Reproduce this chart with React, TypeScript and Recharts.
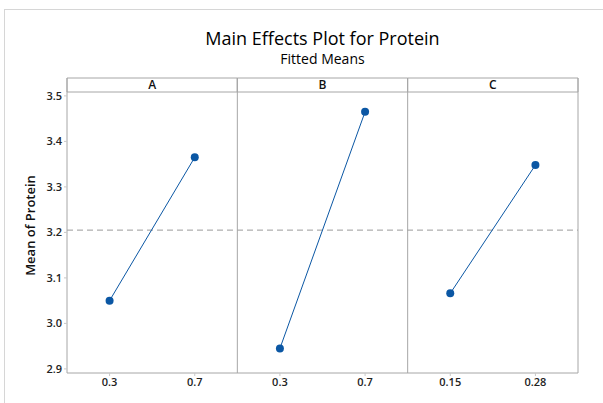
import React from 'react';
import { LineChart, Line, XAxis, YAxis, ReferenceLine, ReferenceArea } from 'recharts';

// ---- data ----
const factors = ['A', 'B', 'C'];
const levelsA = ['0.3', '0.7'];
const levelsB = ['0.3', '0.7'];
const levelsC = ['0.15', '0.28'];
const meansA = [3.05, 3.365];
const meansB = [2.945, 3.465];
const meansC = [3.066, 3.348];
const grandMean = 3.205;
const yTicks = [2.9, 3.0, 3.1, 3.2, 3.3, 3.4, 3.5];

const levels = [levelsA, levelsB, levelsC];
const means = [meansA, meansB, meansC];

// y-domain extends above the data to hold the factor header strip
const Y_MIN = 2.891;
const Y_MAX = 3.5393;
const STRIP_BOTTOM = 3.5085;

const series = factors.map((f, i) =>
  levels[i].map((lv, j) => ({ x: 2 * i + 0.5 + j, level: lv, value: means[i][j] }))
);
const tickPositions: number[] = [];
const tickLabels: Record<string, string> = {};
series.forEach((s) => s.forEach((p) => { tickPositions.push(p.x); tickLabels[String(p.x)] = p.level; }));

const FONT = '"Open Sans", "Noto Sans", sans-serif';
const FRAME = '#a6a6a6';
const BLUE = '#0b57a4';

export default function App() {
  return (
    <div style={{ position: 'absolute', left: 0, top: 0, width: 603, height: 403, background: '#fff', overflow: 'hidden', fontFamily: FONT }}>
      <div style={{ position: 'absolute', left: 4, top: 9, width: 640, height: 440, border: '1px solid #d6d6d6' }} />
      <div style={{ position: 'absolute', left: 67, width: 511, top: 27, textAlign: 'center', fontSize: 18, fontWeight: 400, color: '#000', lineHeight: '22px' }}>
        Main Effects Plot for Protein
      </div>
      <div style={{ position: 'absolute', left: 67, width: 511, top: 50, textAlign: 'center', fontSize: 14, fontWeight: 400, color: '#000', lineHeight: '17px' }}>
        Fitted Means
      </div>
      <div style={{ position: 'absolute', left: 0, top: 0 }}>
        <LineChart width={603} height={403} margin={{ top: 78, right: 25, bottom: 5, left: 0 }}>
          <XAxis
            dataKey="x"
            type="number"
            domain={[0, 6]}
            ticks={tickPositions}
            tickFormatter={(v) => tickLabels[String(v)]}
            allowDuplicatedCategory={false}
            height={25}
            stroke={FRAME}
            tickSize={3}
            tick={{ fill: '#222', fontSize: 11, fontFamily: FONT, fontWeight: 600 }}
            tickLine={{ stroke: '#c8c8c8' }}
          />
          <YAxis
            type="number"
            domain={[Y_MIN, Y_MAX]}
            ticks={yTicks}
            tickFormatter={(v) => Number(v).toFixed(1)}
            width={67}
            stroke={FRAME}
            tickSize={3}
            tick={{ fill: '#222', fontSize: 11, fontFamily: FONT, fontWeight: 600 }}
            tickLine={{ stroke: '#c8c8c8' }}
            label={{ value: 'Mean of Protein', angle: -90, position: 'insideLeft', offset: 30, style: { fill: '#111', fontSize: 13, fontWeight: 600, fontFamily: FONT, textAnchor: 'middle' } }}
          />
          <ReferenceLine y={grandMean} stroke="#9a9a9a" strokeDasharray="6 4" ifOverflow="extendDomain" />
          {factors.map((f, i) => (
            <ReferenceArea
              key={'strip' + f}
              x1={2 * i}
              x2={2 * i + 2}
              y1={STRIP_BOTTOM}
              y2={Y_MAX}
              fill="#fff"
              fillOpacity={1}
              stroke={FRAME}
              strokeWidth={1}
              label={{ value: f, position: 'center', fill: '#111', fontSize: 12, fontFamily: FONT, fontWeight: 600 }}
            />
          ))}
          <ReferenceLine x={2} stroke={FRAME} />
          <ReferenceLine x={4} stroke={FRAME} />
          <ReferenceLine x={6} stroke={FRAME} />
          {series.map((s, i) => (
            <Line
              key={factors[i]}
              data={s}
              dataKey="value"
              stroke={BLUE}
              strokeWidth={1}
              dot={{ r: 4, fill: BLUE, stroke: BLUE, strokeWidth: 0 }}
              isAnimationActive={false}
            />
          ))}
        </LineChart>
      </div>
    </div>
  );
}
